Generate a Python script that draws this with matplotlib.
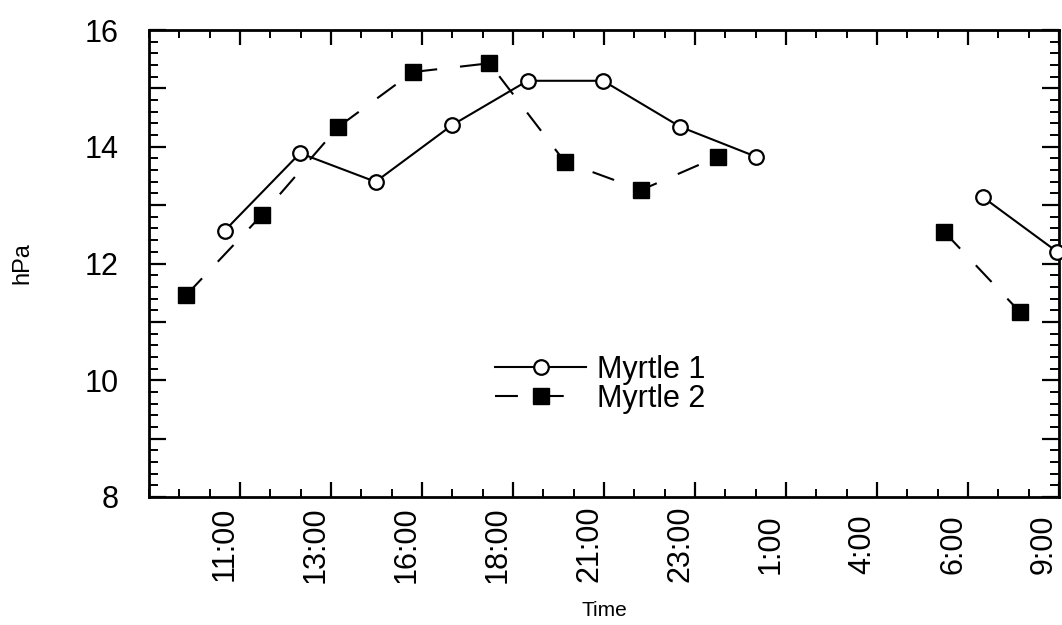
import numpy as np
import matplotlib
matplotlib.use("Agg")
import matplotlib.pyplot as plt
from matplotlib.ticker import MultipleLocator, FuncFormatter

plt.rcParams['font.family'] = ['Liberation Sans', 'DejaVu Sans']

# x positions in tick units (tick 1 = 11:00 ... tick 10 = 9:00), NaN = gap in record
x_m1 = [0.83, 1.66, 2.49, 3.33, 4.16, 4.99, 5.84, 6.67, np.nan, 9.16, 9.98]
y_m1 = [12.56, 13.89, 13.40, 14.37, 15.13, 15.13, 14.34, 13.83, np.nan, 13.14, 12.20]

x_m2 = [0.41, 1.24, 2.08, 2.90, 3.74, 4.57, 5.41, 6.25, np.nan, 8.74, 9.57]
y_m2 = [11.46, 12.83, 14.34, 15.28, 15.43, 13.74, 13.26, 13.83, np.nan, 12.54, 11.17]

tick_pos = [1, 2, 3, 4, 5, 6, 7, 8, 9, 10]
tick_labels = ["11:00", "13:00", "16:00", "18:00", "21:00",
               "23:00", "1:00", "4:00", "6:00", "9:00"]

fig = plt.figure(figsize=(10.62, 6.25), dpi=100)
ax = fig.add_axes([0.1403, 0.2048, 0.8569, 0.7472])

ax.plot(x_m1, y_m1, color='black', lw=1.5, marker='o', markersize=10.5,
        markerfacecolor='white', markeredgecolor='black', markeredgewidth=1.6,
        label='Myrtle 1', clip_on=False, zorder=3)
ax.plot(x_m2, y_m2, color='black', lw=1.5, linestyle=(0, (11, 11)), marker='s',
        markersize=11, markerfacecolor='black', markeredgecolor='black',
        label='Myrtle 2', clip_on=False, zorder=3)

ax.set_xlim(0, 10)
ax.set_ylim(8, 16)

ax.set_xticks(tick_pos)
ax.set_xticklabels(tick_labels, rotation=90, fontsize=22, ha='right', va='center')
ax.xaxis.set_minor_locator(MultipleLocator(1 / 3))

ax.yaxis.set_major_locator(MultipleLocator(1))
ax.yaxis.set_minor_locator(MultipleLocator(0.2))
ax.yaxis.set_major_formatter(FuncFormatter(lambda v, p: f"{v:.0f}" if round(v) % 2 == 0 else ""))

ax.tick_params(which='both', direction='in', top=True, right=True, color='black')
ax.tick_params(axis='x', which='major', length=11, width=1.6, pad=34, labelsize=22)
ax.tick_params(axis='x', which='minor', length=6, width=1.4)
ax.tick_params(axis='y', which='major', length=12, width=1.6, pad=22, labelsize=22)
ax.tick_params(axis='y', which='minor', length=6.5, width=1.4)

for s in ax.spines.values():
    s.set_linewidth(2)

ax.set_xlabel("Time", fontsize=15)
ax.set_ylabel("hPa", fontsize=17)
ax.xaxis.set_label_coords(0.5, -0.2227)
ax.yaxis.set_label_coords(-0.1275, 0.5)

ax.legend(loc='upper left', bbox_to_anchor=(0.380, 0.304), frameon=False,
          fontsize=22, handlelength=3.0, handletextpad=0.33, labelspacing=-0.03,
          borderpad=0, borderaxespad=0)

fig.savefig("out.png", dpi=100)
